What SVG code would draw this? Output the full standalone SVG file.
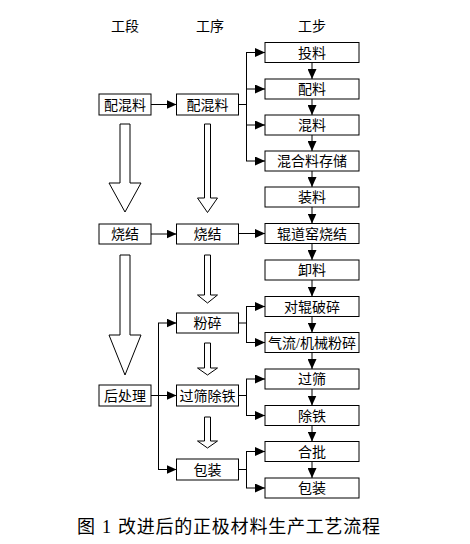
<svg xmlns="http://www.w3.org/2000/svg" width="470" height="544" viewBox="0 0 470 544">
<style>
text{font-family:"Liberation Serif","Noto Sans CJK SC",serif;font-size:14px;fill:#000;text-anchor:middle}
.cap{font-size:18px;text-anchor:start}
.box{fill:#fff;stroke:#000;stroke-width:1}
.hollow{fill:#fff;stroke:#000;stroke-width:1}
.ln{fill:none;stroke:#000;stroke-width:1}
.arr{fill:none;stroke:#000;stroke-width:1;marker-end:url(#ah)}
</style>
<defs>
<marker id="ah" markerUnits="userSpaceOnUse" markerWidth="10" markerHeight="9" refX="10" refY="4.5" orient="auto"><path d="M0,0 L10,4.5 L0,9 z" fill="#000"/></marker>
</defs>
<rect width="470" height="544" fill="#fff"/>
<g id="headers">
<text x="125" y="31">工段</text>
<text x="210" y="31">工序</text>
<text x="312" y="31">工步</text>
</g>
<g id="hollow-arrows">
<polygon class="hollow" points="120,124 130,124 130,183 141,183 125,212 109,183 120,183"/>
<polygon class="hollow" points="120,255 130,255 130,335 141,335 125,375 109,335 120,335"/>
<polygon class="hollow" points="204.5,124 210.5,124 210.5,198 217.5,198 207.5,212.5 197.5,198 204.5,198"/>
<polygon class="hollow" points="204.5,255 210.5,255 210.5,295 217.5,295 207.5,303 197.5,295 204.5,295"/>
<polygon class="hollow" points="204.5,343 210.5,343 210.5,368 217.5,368 207.5,375 197.5,368 204.5,368"/>
<polygon class="hollow" points="204.5,417 210.5,417 210.5,441 217.5,441 207.5,448 197.5,441 204.5,441"/>
</g>
<g id="connectors">
<line class="arr" x1="151" y1="104.5" x2="176.5" y2="104.5"/>
<line class="arr" x1="151" y1="234" x2="176.5" y2="234"/>
<line class="arr" x1="238.5" y1="233.5" x2="265" y2="233.5"/>
<polyline class="ln" points="238.5,104.5 246.5,104.5"/>
<line class="ln" x1="246.5" y1="52.5" x2="246.5" y2="161"/>
<line class="arr" x1="246" y1="52.5" x2="265" y2="52.5"/>
<line class="arr" x1="246" y1="89" x2="265" y2="89"/>
<line class="arr" x1="246" y1="125" x2="265" y2="125"/>
<line class="arr" x1="246" y1="161" x2="265" y2="161"/>
<line class="ln" x1="238.5" y1="323" x2="246.5" y2="323"/>
<line class="ln" x1="246.5" y1="306.5" x2="246.5" y2="342.5"/>
<line class="arr" x1="246" y1="306.5" x2="265" y2="306.5"/>
<line class="arr" x1="246" y1="342.5" x2="265" y2="342.5"/>
<line class="ln" x1="238.5" y1="395.5" x2="246.5" y2="395.5"/>
<line class="ln" x1="246.5" y1="379" x2="246.5" y2="415.5"/>
<line class="arr" x1="246" y1="379" x2="265" y2="379"/>
<line class="arr" x1="246" y1="415.5" x2="265" y2="415.5"/>
<line class="ln" x1="238.5" y1="469.5" x2="246.5" y2="469.5"/>
<line class="ln" x1="246.5" y1="451.5" x2="246.5" y2="488"/>
<line class="arr" x1="246" y1="451.5" x2="265" y2="451.5"/>
<line class="arr" x1="246" y1="488" x2="265" y2="488"/>
<line class="arr" x1="151" y1="395.5" x2="176.5" y2="395.5"/>
<line class="ln" x1="158.5" y1="323" x2="158.5" y2="469.5"/>
<line class="arr" x1="158" y1="323" x2="176.5" y2="323"/>
<line class="arr" x1="158" y1="469.5" x2="176.5" y2="469.5"/>
<line class="arr" x1="312" y1="62.5" x2="312" y2="79"/>
<line class="arr" x1="312" y1="99" x2="312" y2="115"/>
<line class="arr" x1="312" y1="135" x2="312" y2="151"/>
<line class="arr" x1="312" y1="171" x2="312" y2="187"/>
<line class="arr" x1="312" y1="207" x2="312" y2="223.5"/>
<line class="arr" x1="312" y1="243.5" x2="312" y2="260"/>
<line class="arr" x1="312" y1="280" x2="312" y2="296.5"/>
<line class="arr" x1="312" y1="316.5" x2="312" y2="332.5"/>
<line class="arr" x1="312" y1="352.5" x2="312" y2="369"/>
<line class="arr" x1="312" y1="389" x2="312" y2="405.5"/>
<line class="arr" x1="312" y1="425.5" x2="312" y2="441.5"/>
<line class="arr" x1="312" y1="461.5" x2="312" y2="478"/>
</g>
<g id="s-peihunliao"><rect class="box" x="99" y="94" width="52" height="21"/><text x="125" y="109.5">配混料</text></g>
<g id="s-shaojie"><rect class="box" x="99" y="224" width="52" height="20"/><text x="125" y="239">烧结</text></g>
<g id="s-houchuli"><rect class="box" x="99" y="385" width="52" height="21"/><text x="125" y="400.5">后处理</text></g>
<g id="p-peihunliao"><rect class="box" x="176.5" y="94" width="62" height="21"/><text x="207.5" y="109.5">配混料</text></g>
<g id="p-shaojie"><rect class="box" x="176.5" y="224" width="62" height="20"/><text x="207.5" y="239">烧结</text></g>
<g id="p-fensui"><rect class="box" x="176.5" y="313" width="62" height="20"/><text x="207.5" y="328">粉碎</text></g>
<g id="p-guoshai"><rect class="box" x="176.5" y="385" width="62" height="21"/><text x="207.5" y="400.5">过筛除铁</text></g>
<g id="p-baozhuang"><rect class="box" x="176.5" y="459" width="62" height="21"/><text x="207.5" y="474.5">包装</text></g>
<g id="t-touliao"><rect class="box" x="265" y="42.5" width="94" height="20"/><text x="312" y="57.5">投料</text></g>
<g id="t-peiliao"><rect class="box" x="265" y="79" width="94" height="20"/><text x="312" y="94">配料</text></g>
<g id="t-hunliao"><rect class="box" x="265" y="115" width="94" height="20"/><text x="312" y="130">混料</text></g>
<g id="t-cunchu"><rect class="box" x="265" y="151" width="94" height="20"/><text x="312" y="166">混合料存储</text></g>
<g id="t-zhuangliao"><rect class="box" x="265" y="187" width="94" height="20"/><text x="312" y="202">装料</text></g>
<g id="t-yao"><rect class="box" x="265" y="223.5" width="94" height="20"/><text x="312" y="238.5">辊道窑烧结</text></g>
<g id="t-xieliao"><rect class="box" x="265" y="260" width="94" height="20"/><text x="312" y="275">卸料</text></g>
<g id="t-duigun"><rect class="box" x="265" y="296.5" width="94" height="20"/><text x="312" y="311.5">对辊破碎</text></g>
<g id="t-qiliu"><rect class="box" x="265" y="332.5" width="94" height="20"/><text x="312" y="347.5">气流/机械粉碎</text></g>
<g id="t-guoshai"><rect class="box" x="265" y="369" width="94" height="20"/><text x="312" y="384">过筛</text></g>
<g id="t-chutie"><rect class="box" x="265" y="405.5" width="94" height="20"/><text x="312" y="420.5">除铁</text></g>
<g id="t-hepi"><rect class="box" x="265" y="441.5" width="94" height="20"/><text x="312" y="456.5">合批</text></g>
<g id="t-baozhuang"><rect class="box" x="265" y="478" width="94" height="20"/><text x="312" y="493">包装</text></g>
<g id="caption"><text class="cap" x="77" y="533" xml:space="preserve">图 <tspan x="102">1</tspan><tspan x="118" textLength="262" lengthAdjust="spacing">改进后的正极材料生产工艺流程</tspan></text></g>
</svg>
